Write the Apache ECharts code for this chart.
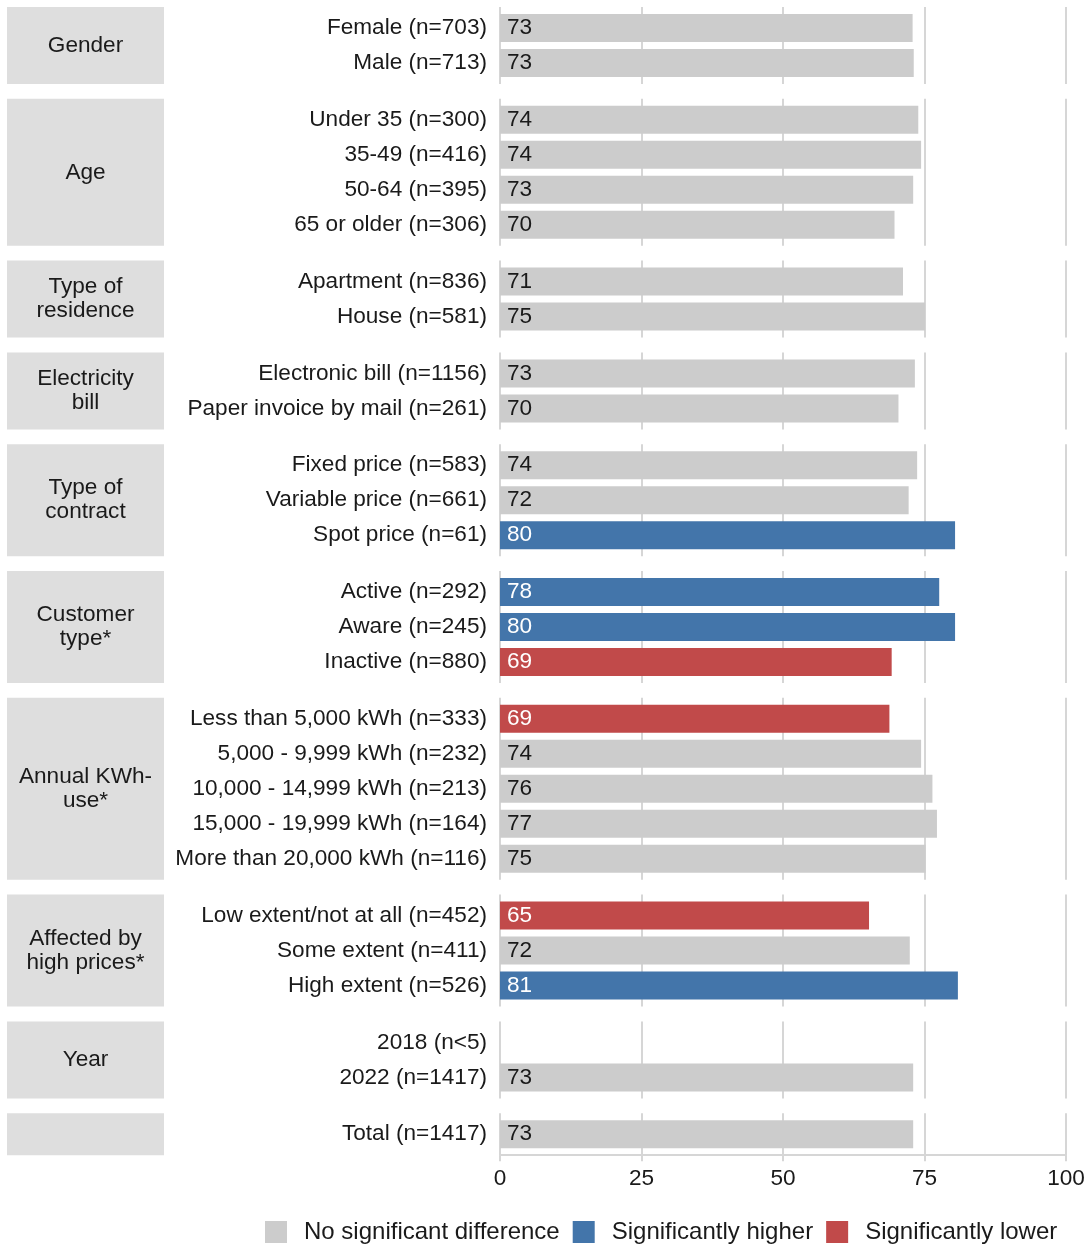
<!DOCTYPE html>
<html><head><meta charset="utf-8">
<script src="https://cdn.jsdelivr.net/npm/echarts@6/dist/echarts.min.js"></script>
<style>html,body{margin:0;padding:0;background:#fff}#c{width:1086px;height:1245px}</style>
</head><body><div id="c"></div>
<script>
// ---- data ----
const groupNames = ['Gender','Age','Type of\nresidence','Electricity\nbill','Type of\ncontract','Customer\ntype*','Annual KWh-\nuse*','Affected by\nhigh prices*','Year',''];

const genderCats = ['Female (n=703)','Male (n=713)'];
const genderVals = [72.9, 73.1];
const genderSig  = ['none','none'];

const ageCats = ['Under 35 (n=300)','35-49 (n=416)','50-64 (n=395)','65 or older (n=306)'];
const ageVals = [73.9, 74.4, 73.0, 69.7];
const ageSig  = ['none','none','none','none'];

const residenceCats = ['Apartment (n=836)','House (n=581)'];
const residenceVals = [71.2, 75.1];
const residenceSig  = ['none','none'];

const billCats = ['Electronic bill (n=1156)','Paper invoice by mail (n=261)'];
const billVals = [73.3, 70.4];
const billSig  = ['none','none'];

const contractCats = ['Fixed price (n=583)','Variable price (n=661)','Spot price (n=61)'];
const contractVals = [73.7, 72.2, 80.4];
const contractSig  = ['none','none','higher'];

const customerCats = ['Active (n=292)','Aware (n=245)','Inactive (n=880)'];
const customerVals = [77.6, 80.4, 69.2];
const customerSig  = ['higher','higher','lower'];

const kwhCats = ['Less than 5,000 kWh (n=333)','5,000 - 9,999 kWh (n=232)','10,000 - 14,999 kWh (n=213)','15,000 - 19,999 kWh (n=164)','More than 20,000 kWh (n=116)'];
const kwhVals = [68.8, 74.4, 76.4, 77.2, 75.2];
const kwhSig  = ['lower','none','none','none','none'];

const affectedCats = ['Low extent/not at all (n=452)','Some extent (n=411)','High extent (n=526)'];
const affectedVals = [65.2, 72.4, 80.9];
const affectedSig  = ['lower','none','higher'];

const yearCats = ['2018 (n<5)','2022 (n=1417)'];
const yearVals = [null, 73.0];
const yearSig  = ['none','none'];

const totalCats = ['Total (n=1417)'];
const totalVals = [73.0];
const totalSig  = ['none'];

const xTicks = [0, 25, 50, 75, 100];
const sigKeys = ['none','higher','lower'];
const sigNames = {none:'No significant difference', higher:'Significantly higher', lower:'Significantly lower'};
const sigColors = {none:'#cccccc', higher:'#4375aa', lower:'#c14a4a'};

const panels = [
  [genderCats, genderVals, genderSig],
  [ageCats, ageVals, ageSig],
  [residenceCats, residenceVals, residenceSig],
  [billCats, billVals, billSig],
  [contractCats, contractVals, contractSig],
  [customerCats, customerVals, customerSig],
  [kwhCats, kwhVals, kwhSig],
  [affectedCats, affectedVals, affectedSig],
  [yearCats, yearVals, yearSig],
  [totalCats, totalVals, totalSig]
];

// ---- layout ----
const FONT = 'Liberation Sans, Arial, sans-serif';
const FS = 22.6;
const TXT = '#1a1a1a';
const GRIDC = '#d6d6d6';
const ROW = 35, GAP = 14.8, TOP0 = 7, LEFT = 500, RIGHT = 20;

const grids = [], xAxes = [], yAxes = [], series = [], graphics = [];
let yPos = TOP0;
const N = panels.length;
panels.forEach((p, i) => {
  const [cats, vals, sig] = p;
  const n = cats.length;
  const h = (n + 0.2) * ROW;
  const isLast = i === N - 1;
  grids[i] = {left: LEFT, right: RIGHT, top: yPos, height: h, outerBoundsMode: 'none', containLabel: false};
  xAxes[i] = {
    gridIndex: i, type: 'value', min: 0, max: 100, interval: 25,
    splitLine: {show: true, lineStyle: {color: GRIDC, width: 2}},
    axisLine: {show: isLast, onZero: false, lineStyle: {color: GRIDC, width: 2}},
    axisTick: {show: isLast, length: 6, lineStyle: {color: GRIDC, width: 2}},
    axisLabel: {show: isLast, fontSize: FS, fontFamily: FONT, color: TXT, margin: 12,
      formatter: v => xTicks.indexOf(v) >= 0 ? String(v) : ''}
  };
  yAxes[i] = {gridIndex: i, type: 'value', show: false};
  const gi = N + i;
  grids[gi] = {left: LEFT, right: RIGHT, top: yPos + 0.1 * ROW, height: n * ROW, outerBoundsMode: 'none', containLabel: false};
  xAxes[gi] = {gridIndex: gi, type: 'value', min: 0, max: 100, show: false};
  yAxes[gi] = {
    gridIndex: gi, type: 'category', data: cats, inverse: true,
    axisLine: {show: false}, axisTick: {show: false}, splitLine: {show: false},
    axisLabel: {show: true, interval: 0, fontSize: FS, fontFamily: FONT, color: TXT, margin: 13}
  };
  sigKeys.forEach(s => {
    series.push({
      type: 'bar', name: sigNames[s], xAxisIndex: gi, yAxisIndex: gi,
      barWidth: 28, barGap: '-100%',
      data: vals.map((v, k) => (v != null && sig[k] === s) ? v : '-'),
      itemStyle: {color: sigColors[s]},
      label: {show: true, position: 'insideLeft', distance: 7, fontSize: FS, fontFamily: FONT,
        color: s === 'none' ? TXT : '#ffffff', formatter: q => String(Math.round(q.value))},
      silent: true
    });
  });
  graphics.push({type: 'rect', shape: {x: 7, y: yPos, width: 157, height: h}, style: {fill: '#dedede'}, silent: true});
  if (groupNames[i]) {
    graphics.push({type: 'text', x: 85.5, y: yPos + h / 2, silent: true,
      style: {text: groupNames[i], font: FS + 'px ' + FONT, fill: TXT, align: 'center', verticalAlign: 'middle', lineHeight: 24}});
  }
  yPos += h + GAP;
});

const chart = echarts.init(document.getElementById('c'), null, {renderer: 'canvas'});
chart.setOption({
  animation: false,
  backgroundColor: '#ffffff',
  grid: grids, xAxis: xAxes, yAxis: yAxes, series: series,
  graphic: graphics,
  legend: {
    data: sigKeys.map(s => sigNames[s]),
    left: 265, top: 1220, padding: 0, icon: 'rect', itemWidth: 22, itemHeight: 22, itemGap: 13,
    textStyle: {fontSize: 24, fontFamily: FONT, color: TXT, padding: [0, 0, 0, 12]},
    selectedMode: false
  }
});
</script>
</body></html>
